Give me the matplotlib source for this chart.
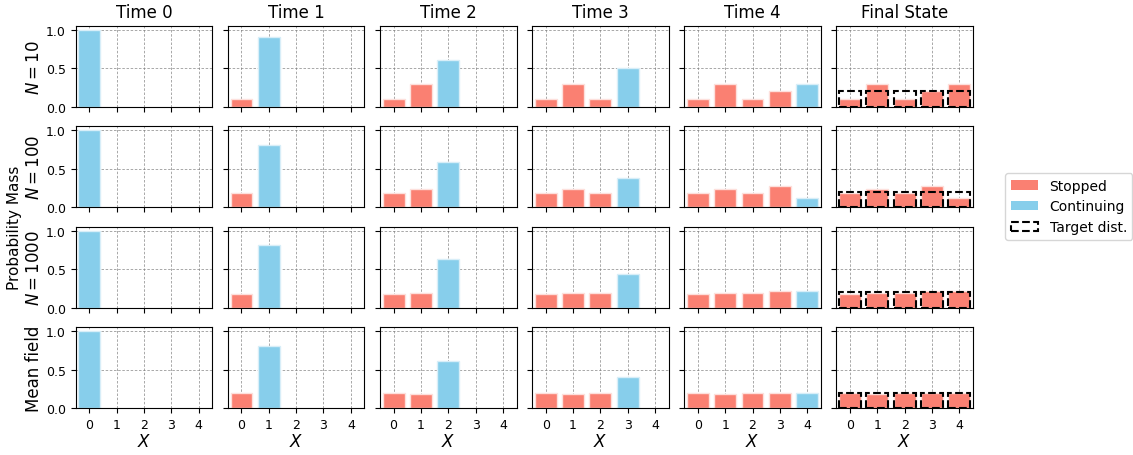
import numpy as np
import matplotlib
matplotlib.use("Agg")
import matplotlib.pyplot as plt
from matplotlib.patches import Patch

# row labels / column titles
row_labels = ["$N = 10$", "$N = 100$", "$N = 1000$", "Mean field"]
col_titles = ["Time 0", "Time 1", "Time 2", "Time 3", "Time 4", "Final State"]
states = [0, 1, 2, 3, 4]
target = [0.2, 0.2, 0.2, 0.2, 0.2]

# stopped mass per state after each step (final state == time 4 stopped + continuing at 4)
stopped_n10 = [0.1, 0.3, 0.1, 0.2]
stopped_n100 = [0.19, 0.23, 0.19, 0.27]
stopped_n1000 = [0.175, 0.195, 0.19, 0.216]
stopped_mf = [0.2, 0.19, 0.203, 0.2]

# continuing mass at time t (sits at state t)
cont_n10 = [1.0, 0.9, 0.6, 0.5, 0.3]
cont_n100 = [1.0, 0.81, 0.58, 0.385, 0.12]
cont_n1000 = [1.0, 0.82, 0.628, 0.437, 0.216]
cont_mf = [1.0, 0.805, 0.61, 0.407, 0.203]

stopped_all = [stopped_n10, stopped_n100, stopped_n1000, stopped_mf]
cont_all = [cont_n10, cont_n100, cont_n1000, cont_mf]

c_stop = "salmon"
c_cont = "skyblue"

fig, axes = plt.subplots(4, 6, figsize=(11.33, 4.56), dpi=100, sharex=True, sharey=True)
fig.subplots_adjust(left=0.0668, right=0.8588, top=0.9414, bottom=0.1024,
                    wspace=0.113, hspace=0.243)

for r in range(4):
    stp = stopped_all[r]
    cnt = cont_all[r]
    for t in range(6):
        ax = axes[r, t]
        ax.grid(True, linestyle=(0, (3, 2)), color="gray", alpha=0.8, linewidth=0.6)
        ax.set_axisbelow(True)
        if t < 5:
            # stopped bars for states < t
            if t > 0:
                ax.bar(states[:t], stp[:t], width=0.8, color=c_stop, edgecolor="#fde0dc", linewidth=1)
            ax.bar([states[t]], [cnt[t]], width=0.8, color=c_cont, edgecolor="#d8eef8", linewidth=1)
        else:
            final = stp + [cnt[4]]
            ax.bar(states, final, width=0.8, color=c_stop, edgecolor="#fde0dc", linewidth=1)
            ax.bar(states, target, width=0.8, fill=False, edgecolor="black",
                   linestyle="--", linewidth=1.5)
        ax.set_xlim(-0.5, 4.5)
        ax.set_ylim(0, 1.05)
        ax.set_xticks(states)
        ax.set_yticks([0, 0.5, 1.0])
        ax.tick_params(labelsize=9)
        if r == 0:
            ax.set_title(col_titles[t], fontsize=12)
        if r == 3:
            ax.set_xlabel("$X$", fontsize=12, labelpad=1)
        if t == 0:
            ax.set_ylabel(row_labels[r], fontsize=12, labelpad=2)

fig.text(0.013, 0.5, "Probability Mass", rotation=90, ha="center", va="center", fontsize=11)

handles = [Patch(facecolor=c_stop, label="Stopped"),
           Patch(facecolor=c_cont, label="Continuing"),
           Patch(facecolor="none", edgecolor="black", linestyle="--", linewidth=1.5, label="Target dist.")]
fig.legend(handles=handles, loc="center left", bbox_to_anchor=(0.881, 0.545), fontsize=10)

fig.savefig("out.png", dpi=100)
